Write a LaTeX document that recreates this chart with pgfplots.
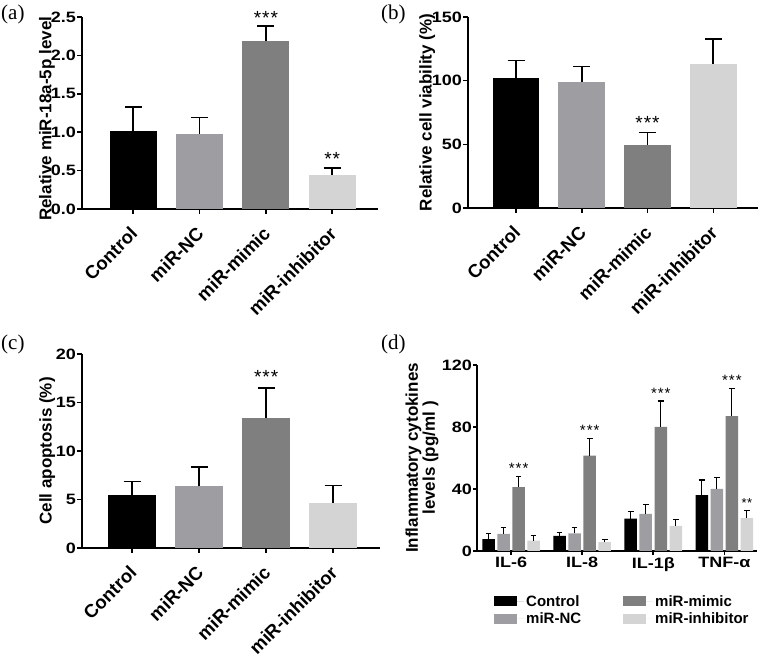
\documentclass[border=0pt]{standalone}
\usepackage{fontspec}
\setmainfont{Liberation Sans}
\newfontfamily\serif{Liberation Serif}
\newfontfamily\wide{Liberation Sans}[FakeStretch=1.2]
\usepackage{pgfplots}
\pgfplotsset{compat=1.18}
\definecolor{cCtrl}{HTML}{000000}
\definecolor{cNC}{HTML}{9E9EA2}
\definecolor{cMim}{HTML}{7F7F7F}
\definecolor{cInh}{HTML}{D4D4D4}
\pgfplotsset{
  panel/.style={
    scale only axis,
    axis x line*=bottom, axis y line*=left,
    axis line style={line width=1.5pt, black},
    every tick/.style={line width=1.5pt, black},
    tick align=outside,
    major tick length=5pt,
    /pgf/number format/assume math mode=true,
    ymin=0,
    yticklabel style={font=\wide\bfseries\fontsize{15}{15}\selectfont, inner sep=1pt},
    ylabel style={font=\bfseries\fontsize{17}{17}\selectfont},
    clip=false,
  },
  abc/.style={
    panel,
    xtick={0,1,2,3},
    xticklabels={Control,miR-NC,miR-mimic,miR-inhibitor},
    xticklabel style={xshift=-4pt, yshift=-10pt, rotate=45, anchor=north east, inner sep=1pt, font=\bfseries\fontsize{18.5}{18.5}\selectfont},
  },
  b/.style={ybar, bar width=0.71, bar shift=0pt, draw=none, fill=#1,
    error bars/y dir=plus, error bars/y explicit,
    error bars/error bar style={line width=1.6pt, black},
    error bars/error mark options={rotate=90, line width=1.6pt, black, mark size=8.5pt}},
  d/.style={ybar, bar width=0.176, bar shift=0pt, draw=none, fill=#1,
    error bars/y dir=plus, error bars/y explicit,
    error bars/error bar style={line width=1.3pt, black},
    error bars/error mark options={rotate=90, line width=1.3pt, black, mark size=2.8pt},
    legend image code/.code={\fill[fill=#1] (0pt,-5pt) rectangle (23pt,5pt); \path (0pt,0pt) -- (30pt,0pt);}},
}
\tikzset{
  mystar/.style={font=\fontsize{19}{19}\selectfont, anchor=base, inner sep=0pt},
  smallstar/.style={font=\fontsize{15}{15}\selectfont, anchor=base, inner sep=0pt},
}
\newcommand{\stars}{*\kern1pt*\kern1pt*}
\begin{document}
\begin{tikzpicture}
\useasboundingbox (0,0) rectangle (764pt,658pt);
% panel labels
\node[font=\serif\fontsize{21}{21}\selectfont, anchor=north west, inner sep=0pt] at (1pt,653pt) {(a)};
\node[font=\serif\fontsize{21}{21}\selectfont, anchor=north west, inner sep=0pt] at (381pt,653pt) {(b)};
\node[font=\serif\fontsize{21}{21}\selectfont, anchor=north west, inner sep=0pt] at (1pt,323pt) {(c)};
\node[font=\serif\fontsize{21}{21}\selectfont, anchor=north west, inner sep=0pt] at (381pt,323pt) {(d)};

% (a)
\begin{axis}[abc, at={(82pt,449pt)}, anchor=south west, width=296pt, height=192pt,
  xmin=-0.77, xmax=3.69, ymax=2.5, ytick={0,0.5,1,1.5,2,2.5},
  yticklabel style={/pgf/number format/.cd, fixed, fixed zerofill, precision=1},
  ylabel={Relative miR-18a-5p level},
  ylabel style={at={(axis description cs:-0.118,0.47)}, anchor=center}]
\addplot[b=cCtrl] coordinates {(0,1.02) +- (0,0.31)};
\addplot[b=cNC] coordinates {(1,0.98) +- (0,0.21)};
\addplot[b=cMim] coordinates {(2,2.19) +- (0,0.19)};
\addplot[b=cInh] coordinates {(3,0.44) +- (0,0.09)};
\node[mystar] at (axis cs:2,2.40) {\stars};
\node[mystar] at (axis cs:3,0.56) {*\kern1pt*};
\end{axis}

% (b)
\begin{axis}[abc, at={(468pt,450pt)}, anchor=south west, width=290pt, height=191pt,
  xmin=-0.73, xmax=3.68, ymax=150, ytick={0,50,100,150},
  ylabel={Relative cell viability (\%)},
  ylabel style={at={(axis description cs:-0.141,0.5)}, anchor=center}]
\addplot[b=cCtrl] coordinates {(0,101.7) +- (0,14.1)};
\addplot[b=cNC] coordinates {(1,99.0) +- (0,12.1)};
\addplot[b=cMim] coordinates {(2,49.6) +- (0,9.8)};
\addplot[b=cInh] coordinates {(3,113.2) +- (0,19.4)};
\node[mystar] at (axis cs:2,62) {\stars};
\end{axis}

% (c)
\begin{axis}[abc, at={(82pt,110pt)}, anchor=south west, width=298pt, height=194pt,
  xmin=-0.75, xmax=3.70, ymax=20, ytick={0,5,10,15,20},
  ylabel={Cell apoptosis (\%)},
  ylabel style={at={(axis description cs:-0.117,0.5)}, anchor=center}]
\addplot[b=cCtrl] coordinates {(0,5.43) +- (0,1.44)};
\addplot[b=cNC] coordinates {(1,6.36) +- (0,1.99)};
\addplot[b=cMim] coordinates {(2,13.4) +- (0,3.1)};
\addplot[b=cInh] coordinates {(3,4.67) +- (0,1.79)};
\node[mystar] at (axis cs:2,17.0) {\stars};
\end{axis}

% (d)
\begin{axis}[panel, at={(477pt,107pt)}, anchor=south west, width=280pt, height=186pt,
  xmin=-0.48, xmax=3.46, ymax=120, ytick={0,40,80,120},
  xtick={0,1,2,3}, xticklabels={IL-6,IL-8,IL-1β,TNF-α},
  major tick length=4pt,
  xticklabel style={font=\wide\bfseries\fontsize{15}{15}\selectfont, inner sep=2pt},
  ylabel={Inflammatory cytokines\\levels (pg/ml )},
  ylabel style={align=center, at={(axis description cs:-0.196,0.5)}, anchor=center},
  legend columns=2, transpose legend,
  legend cell align=left,
  legend style={draw=none, fill=none, at={(rel axis cs:0.05,0)}, anchor=north west, yshift=-40pt,
    font=\bfseries\fontsize{15}{15}\selectfont, row sep=1pt,
    /tikz/every even column/.append style={column sep=40pt}}]
\addplot[d=cCtrl] coordinates {(-0.317,7.6) +- (0,3.6) (0.683,9.7) +- (0,2.4) (1.683,20.9) +- (0,4.4) (2.683,36.0) +- (0,9.8)};
\addplot[d=cNC] coordinates {(-0.106,11.0) +- (0,4.1) (0.894,11.4) +- (0,3.7) (1.894,24.0) +- (0,6.2) (2.894,40.0) +- (0,7.5)};
\addplot[d=cMim] coordinates {(0.106,41.2) +- (0,6.9) (1.106,61.5) +- (0,11.2) (2.106,80.0) +- (0,16.7) (3.106,87.0) +- (0,18.0)};
\addplot[d=cInh] coordinates {(0.317,6.7) +- (0,3.2) (1.317,5.8) +- (0,1.5) (2.317,16.2) +- (0,4.3) (3.317,21.2) +- (0,5.1)};
\legend{Control,miR-NC,miR-mimic,miR-inhibitor}
\node[smallstar] at (axis cs:0.106,50) {\stars};
\node[smallstar] at (axis cs:1.106,74.5) {\stars};
\node[smallstar] at (axis cs:2.106,98.5) {\stars};
\node[smallstar] at (axis cs:3.106,107) {\stars};
\node[smallstar, font=\fontsize{13}{13}\selectfont] at (axis cs:3.317,28) {*\kern0.5pt*};
\end{axis}
\end{tikzpicture}
\end{document}
